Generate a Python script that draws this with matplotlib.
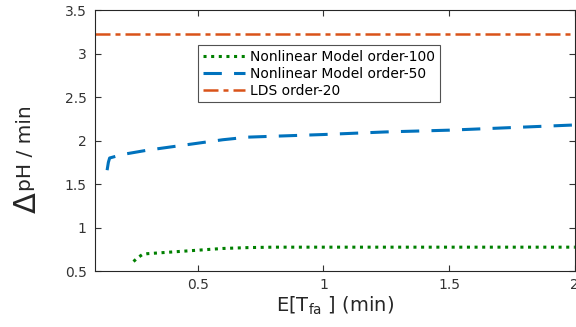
import matplotlib
matplotlib.use("Agg")
import matplotlib.pyplot as plt

# values
x_nl100 = [0.245, 0.26, 0.28, 0.30, 0.40, 0.50, 0.60, 0.70, 0.80, 1.00, 1.25, 1.50, 1.75, 2.00]
y_nl100 = [0.61, 0.65, 0.69, 0.70, 0.72, 0.74, 0.76, 0.77, 0.775, 0.775, 0.775, 0.775, 0.775, 0.775]

x_nl50 = [0.14, 0.145, 0.15, 0.20, 0.30, 0.40, 0.50, 0.60, 0.70, 0.80, 1.00, 1.25, 1.50, 1.75, 2.00]
y_nl50 = [1.66, 1.75, 1.80, 1.84, 1.89, 1.93, 1.97, 2.01, 2.04, 2.05, 2.07, 2.10, 2.12, 2.15, 2.18]

x_lds = [0.09, 2.00]
y_lds = [3.23, 3.23]

labels = ["Nonlinear Model order-100", "Nonlinear Model order-50", "LDS order-20"]

fig = plt.figure(figsize=(5.76, 3.27), dpi=100)
ax = fig.add_axes([0.165, 0.171, 0.833, 0.798])

ax.plot(x_nl100, y_nl100, color="#008000", linestyle=(0, (1, 1.5)), linewidth=2.2, label=labels[0])
ax.plot(x_nl50, y_nl50, color="#0072BD", linestyle=(0, (6, 4)), linewidth=2.2, label=labels[1])
ax.plot(x_lds, y_lds, color="#D95319", linestyle=(0, (6, 2, 2, 2)), linewidth=1.8, label=labels[2])

ax.set_xlim(0.092, 2.0)
ax.set_ylim(0.5, 3.5)
ax.set_xticks([0.5, 1, 1.5, 2])
ax.set_xticklabels(["0.5", "1", "1.5", "2"])
ax.set_yticks([0.5, 1, 1.5, 2, 2.5, 3, 3.5])
ax.set_yticklabels(["0.5", "1", "1.5", "2", "2.5", "3", "3.5"])
ax.tick_params(direction="in", length=4, labelsize=10, colors="#333333", top=True, right=True)
ax.tick_params(axis="y", pad=6)
ax.tick_params(axis="x", pad=5)
for s in ax.spines.values():
    s.set_color("#262626")
    s.set_linewidth(0.8)

ax.set_xlabel(r"E[T$_{\rm fa}$ ] (min)", fontsize=14, color="#262626", labelpad=2)
ax.set_ylabel("pH / min", fontsize=14.5, color="#262626")
ax.yaxis.set_label_coords(-0.125, 0.47)
fig.text(0.047, 0.38, "\u0394", fontsize=22, rotation=90, ha="center", va="center", color="#262626")

leg = ax.legend(loc="upper left", bbox_to_anchor=(0.215, 0.866), fontsize=10, frameon=True,
                fancybox=False, edgecolor="#262626", handlelength=3.0, borderpad=0.35,
                labelspacing=0.2, handletextpad=0.4, borderaxespad=0)
leg.get_frame().set_linewidth(0.8)

fig.savefig("out.png", dpi=100)
